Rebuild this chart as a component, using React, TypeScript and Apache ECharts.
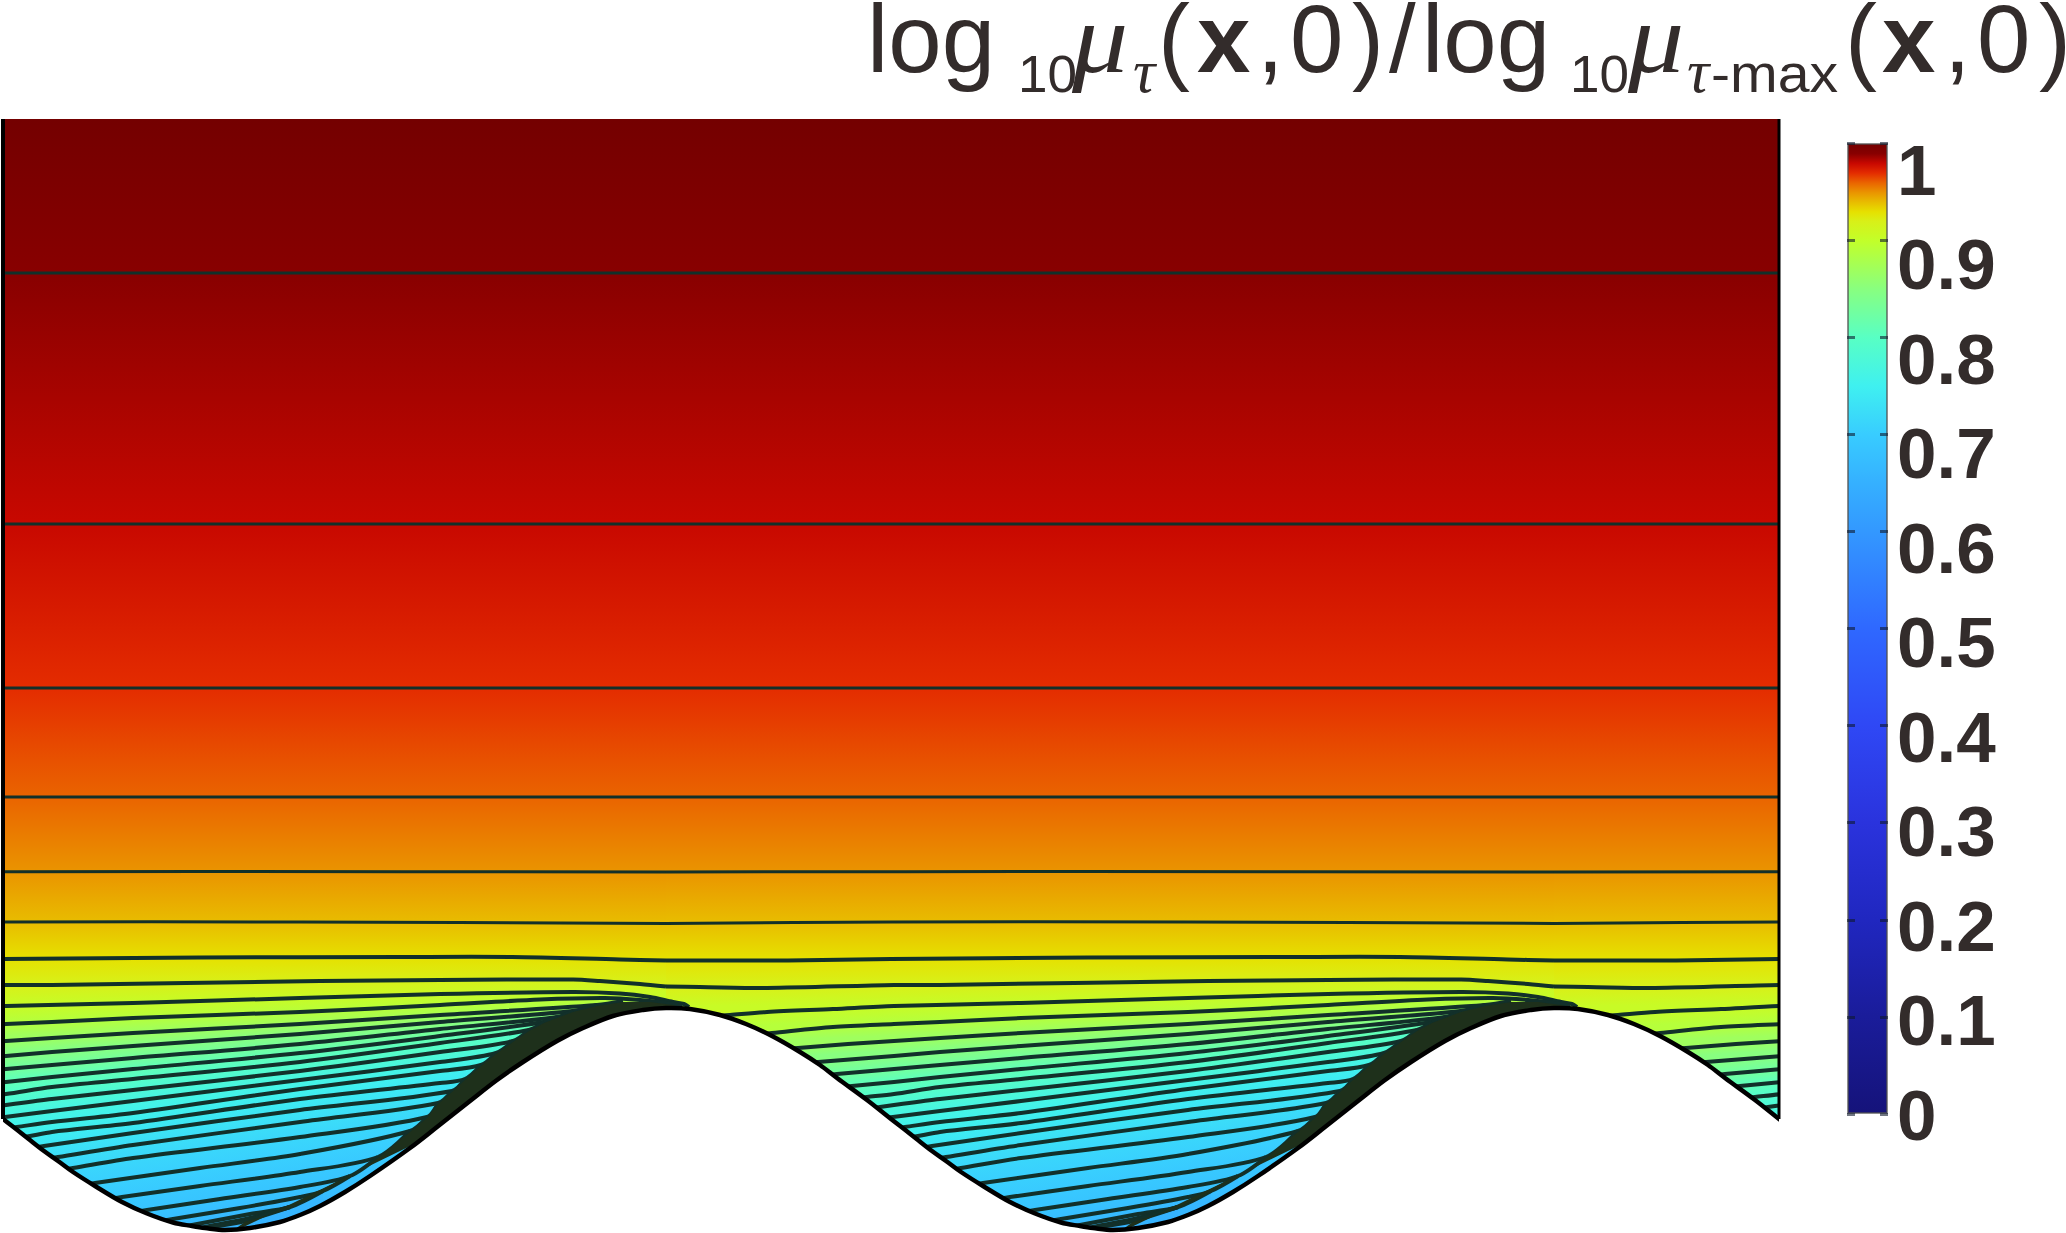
import React, { useEffect, useRef } from "react";
import * as echarts from "echarts";

// Colour scale: level, colour
const colorLevels = [0, 0.1, 0.2, 0.3, 0.4, 0.5, 0.6, 0.65, 0.7, 0.75, 0.8, 0.85, 0.9, 0.92, 0.93, 0.94, 0.95, 0.96, 0.97, 0.98, 0.99, 1];
const colorValues = ["#15137a", "#1a1c9a", "#2027c0", "#2a33dd", "#2f48f5", "#2f68ff", "#3398ff", "#35b0ff", "#38ccff", "#3ff0f0", "#58ffc4", "#88ff80", "#c2ff2a", "#d8f018", "#e6e000", "#e8bc00", "#ea9400", "#ea6400", "#e42c00", "#c80800", "#880000", "#740000"];

const barTicks = [0, 0.1, 0.2, 0.3, 0.4, 0.5, 0.6, 0.7, 0.8, 0.9, 1];

// Contours over one wave period, [x, depth]
const topEdge = [[-222, 119], [666, 119]];
const contour99 = [[-222, 273], [666, 273]];
const contour98 = [[-222, 524], [666, 524]];
const contour97 = [[-222, 688], [666, 688]];
const contour96 = [[-222, 797], [666, 797]];
const contour95 = [[-222, 872], [200, 871.5], [666, 872]];
const contour94 = [[-222, 923.5], [3, 922], [300, 922], [666, 923.5]];
const contour93 = [[-222, 960.5], [-100, 960.5], [3, 959], [200, 957.5], [400, 957], [512, 957], [620, 959.5], [666, 960.5]];
const contour92 = [[-222, 986.5], [-188, 987], [-121, 988], [6, 985], [52, 985], [320, 981], [440, 980], [573, 979.5], [600, 981], [640, 984], [666, 986.5]];
const wallContours = [
  [[-158, 1015], [-121, 1012], [-55, 1009], [6, 1006], [133, 1003], [300, 998], [440, 994], [573, 992], [620, 993.5], [650, 997], [673, 1002], [684, 1004], [689, 1007]],
  [[-116, 1033], [-55, 1027], [6, 1024], [52, 1022], [133, 1018], [300, 1012], [440, 1005], [540, 999.5], [605, 998], [640, 1000], [673, 1004], [682, 1006]],
  [[-90, 1048], [-40, 1044], [6, 1041], [52, 1038], [133, 1033], [300, 1024], [440, 1015], [597, 1005], [623, 1001]],
  [[-70, 1062], [6, 1056], [52, 1052], [133, 1046], [300, 1034], [440, 1022], [573, 1011], [597, 1005]],
  [[-51, 1074], [6, 1069], [52, 1065], [133, 1058], [300, 1044], [440, 1029], [557, 1017], [573, 1011]],
  [[-36, 1086], [6, 1082], [52, 1077], [133, 1069], [300, 1053], [440, 1036], [544, 1022], [557, 1017]],
  [[-21, 1097], [6, 1094], [52, 1087], [133, 1079], [300, 1062], [440, 1043], [529, 1030], [544, 1022]],
  [[-8, 1107], [6, 1105], [52, 1099], [133, 1090], [300, 1071], [440, 1052], [513, 1041], [529, 1030]],
  [[5, 1117], [52, 1111], [133, 1101], [300, 1080], [440, 1062], [496, 1053], [513, 1041]],
  [[17, 1127], [52, 1122], [133, 1113], [300, 1089], [440, 1071], [481, 1065], [496, 1053]],
  [[30, 1136], [52, 1132], [133, 1123], [300, 1099], [440, 1083], [465, 1079], [481, 1065]],
  [[44, 1146], [133, 1133], [300, 1110], [452, 1091], [465, 1079]],
  [[58, 1157], [133, 1145], [300, 1122], [438, 1103], [452, 1091]],
  [[73, 1168], [133, 1158], [300, 1137], [427, 1117], [438, 1103]],
  [[95, 1183], [200, 1168], [300, 1154], [410, 1131], [427, 1117]],
  [[122, 1197], [200, 1186], [300, 1172], [378, 1157], [410, 1131]],
  [[147, 1210], [220, 1199], [300, 1187], [350, 1176], [378, 1157]],
  [[173, 1219], [240, 1208], [300, 1197], [323, 1191], [350, 1176]],
  [[192, 1225], [250, 1214], [290, 1207], [323, 1191]],
  [[205, 1227], [250, 1218], [290, 1207]],
  [[213, 1227], [245, 1221], [290, 1207]],
];
const wallContourLevels = [0.905, 0.89, 0.87, 0.85, 0.83, 0.81, 0.795, 0.78, 0.765, 0.755, 0.745, 0.735, 0.725, 0.715, 0.705, 0.695, 0.685, 0.675, 0.665, 0.66, 0.655];

const upperContours = [contour99, contour98, contour97, contour96, contour95, contour94, contour93, contour92];
const upperLevels = [0.99, 0.98, 0.97, 0.96, 0.95, 0.94, 0.93, 0.92];

// Edge of the dense layer along the wavy wall
const layerEdge = [[225, 1236], [245, 1222], [290, 1208], [323, 1192], [350, 1177], [378, 1158], [410, 1132], [427, 1118], [438, 1104], [452, 1092], [465, 1080], [481, 1066], [496, 1054], [513, 1042], [529, 1031], [544, 1023], [557, 1018], [573, 1012], [597, 1006], [623, 1002], [650, 1002], [673, 1005], [690, 1010]];

// Wavy wall over one period
const wallPoints = [[-222, 1008], [-198, 1009], [-168, 1015], [-142, 1024], [-116, 1036], [-88, 1052], [-68, 1065], [-51, 1078], [-21, 1100], [3, 1119], [16, 1129], [28, 1138.5], [44, 1151], [58, 1161], [73, 1172], [95, 1186], [122, 1202], [147, 1213.5], [173, 1222.5], [192, 1226], [205, 1228], [225, 1230], [250, 1228], [280, 1222], [300, 1215], [320, 1206], [345, 1192], [370, 1176], [410, 1148], [437, 1127], [470, 1101], [497, 1080], [523, 1062], [557, 1041], [583, 1028], [613, 1016], [643, 1010], [666, 1008]];

const periodShifts = [0, 888, 1776];

const leftEdge = [[3, 119], [3, 1119]];
const rightEdge = [[1779, 119], [1779, 1119]];

function colorAt(level: number) {
  let i = 0;
  while (i < colorLevels.length - 2 && level > colorLevels[i + 1]) i++;
  const t = (level - colorLevels[i]) / (colorLevels[i + 1] - colorLevels[i]);
  const hex = (s: string, k: number) => parseInt(s.slice(1 + 2 * k, 3 + 2 * k), 16);
  const c = [0, 1, 2].map((k) => Math.round(hex(colorValues[i], k) * (1 - t) + hex(colorValues[i + 1], k) * t));
  return `rgb(${c[0]},${c[1]},${c[2]})`;
}

function yAt(line: number[][], x: number) {
  if (x <= line[0][0]) return line[0][1];
  for (let i = 1; i < line.length; i++) {
    if (x <= line[i][0]) {
      const t = (x - line[i - 1][0]) / (line[i][0] - line[i - 1][0]);
      return line[i - 1][1] * (1 - t) + line[i][1] * t;
    }
  }
  return line[line.length - 1][1];
}

// Carries a wall-bound contour a little under the wall so that no gap shows at its foot
function underWall(line: number[][]) {
  const [a, b] = line;
  const s = (b[1] - a[1]) / (b[0] - a[0]);
  return [[a[0] - 10, a[1] - s * 10], ...line];
}

const TEXT = "#332c2b";
const SANS = "'Liberation Sans', Arial, sans-serif";
const SERIF = "'Liberation Serif', 'Times New Roman', serif";

function titlePiece(text: string, x: number, base: number, size: number, opts: any = {}) {
  const family = opts.serif ? SERIF : SANS;
  const mid = base - (opts.serif ? 0.3375 : 0.3465) * size;
  return {
    type: "text",
    x,
    y: mid,
    scaleX: opts.scaleX || 1,
    silent: true,
    style: {
      text,
      x: 0,
      y: 0,
      fill: TEXT,
      align: "left",
      verticalAlign: "middle",
      font: `${opts.italic ? "italic " : ""}${opts.bold ? "bold " : ""}${size}px ${family}`,
    },
  };
}

function buildOption() {
  const bandLines = [topEdge, ...upperContours, ...wallContours];
  const bandLevels = [1, ...upperLevels, ...wallContourLevels];
  const contourLines = [...upperContours, ...wallContours.map(underWall)];

  const wallTrace: number[][] = [];
  periodShifts.forEach((shift) => {
    wallPoints.forEach(([x, y]) => {
      const px = x + shift;
      if (px >= -70 && px <= 1850 && (wallTrace.length === 0 || px > wallTrace[wallTrace.length - 1][0])) {
        wallTrace.push([px, y]);
      }
    });
  });

  const bands = {
    type: "custom",
    z: 1,
    clip: true,
    silent: true,
    coordinateSystem: "cartesian2d",
    xAxisIndex: 0,
    yAxisIndex: 0,
    data: bandLines.map((_, i) => [i, i]),
    renderItem: (params: any, api: any) => {
      const i = params.dataIndex;
      const line = bandLines[i];
      const next = bandLines[i + 1];
      const first = line[0][0];
      const last = line[line.length - 1][0];
      const sx = Math.min(Math.max(250, first), last);
      const slope = next ? (yAt(line, sx - 60) - yAt(line, sx + 60)) / 120 : 0;
      const len = Math.sqrt(1 + slope * slope);
      const nx = slope / len;
      const ny = 1 / len;
      const py = yAt(line, sx);
      const qy = next ? yAt(next, sx) : py + 10;
      const dist = (qy - py) * ny;
      return {
        type: "group",
        children: periodShifts.map((shift) => {
          const pts = line.map(([x, y]) => api.coord([x + shift, y]));
          pts.push(api.coord([last + shift, 1233]));
          pts.push(api.coord([first + shift, 1233]));
          const a = api.coord([sx + shift, py]);
          const b = api.coord([sx + shift + nx * dist, py + ny * dist]);
          const c0 = colorAt(bandLevels[i]);
          const c1 = next ? colorAt(bandLevels[i + 1]) : c0;
          return {
            type: "polygon",
            shape: { points: pts },
            style: {
              fill: {
                type: "linear",
                x: a[0],
                y: a[1],
                x2: b[0],
                y2: b[1],
                global: true,
                colorStops: [
                  { offset: 0, color: c0 },
                  { offset: 1, color: c1 },
                ],
              },
            },
          };
        }),
      };
    },
  };

  const contoursSeries = {
    type: "custom",
    z: 2,
    clip: true,
    silent: true,
    coordinateSystem: "cartesian2d",
    xAxisIndex: 0,
    yAxisIndex: 0,
    data: contourLines.map((_, i) => [i, i]),
    renderItem: (params: any, api: any) => {
      const i = params.dataIndex;
      const line = contourLines[i];
      const upper = i < upperContours.length - 2;
      return {
        type: "group",
        children: periodShifts.map((shift) => ({
          type: "polyline",
          shape: {
            points: line.map(([x, y]) => api.coord([x + shift, y])),
            smooth: 0.3,
            smoothConstraint: false,
          },
          style: { stroke: "#12302a", lineWidth: upper ? 3 : 4, fill: "none" },
        })),
      };
    },
  };

  const layer = {
    type: "custom",
    z: 3,
    clip: true,
    silent: true,
    coordinateSystem: "cartesian2d",
    xAxisIndex: 0,
    yAxisIndex: 0,
    data: periodShifts.map((s, i) => [i, s]),
    renderItem: (params: any, api: any) => {
      const shift = periodShifts[params.dataIndex];
      return {
        type: "polygon",
        shape: { points: layerEdge.map(([x, y]) => api.coord([x + shift, y])) },
        style: { fill: "#1e301b" },
      };
    },
  };

  const wallShape = {
    type: "custom",
    z: 4,
    clip: true,
    silent: true,
    coordinateSystem: "cartesian2d",
    xAxisIndex: 0,
    yAxisIndex: 0,
    data: [[0, 0]],
    renderItem: (_: any, api: any) => {
      const line = wallTrace.map(([x, y]) => api.coord([x, y]));
      const r = api.coord([1950, 1233]);
      const l = api.coord([-150, 1233]);
      return {
        type: "group",
        children: [
          {
            type: "polygon",
            shape: {
              points: [...line, r, [r[0], 1700], [l[0], 1700], l],
              smooth: 0.35,
              smoothConstraint: false,
            },
            style: { fill: "#ffffff" },
          },
          {
            type: "polyline",
            shape: { points: line, smooth: 0.35, smoothConstraint: false },
            style: { stroke: "#000000", lineWidth: 4.5, fill: "none" },
          },
        ],
      };
    },
  };

  const edgeSeries = (data: number[][], width: number) => ({
    type: "line",
    z: 5,
    silent: true,
    clip: false,
    showSymbol: false,
    symbol: "none",
    xAxisIndex: 0,
    yAxisIndex: 0,
    lineStyle: { color: "#000000", width },
    data,
  });

  const ramp = colorLevels
    .map((lv, i) => ({ offset: 1 - lv, color: colorValues[i] }))
    .reverse();

  const G = { bar: { left: 1847, top: 143, width: 41, height: 971 }, labels: { left: 1896, top: 170, width: 1, height: 945 } };

  const tickFmt = (v: number) => String(+v.toFixed(1));
  const tickStyle = { color: "rgba(15,25,45,0.6)", width: 3 };

  return {
    animation: false,
    backgroundColor: "#ffffff",
    grid: [
      { left: 3, top: 119, width: 1776, height: 1114 },
      G.bar,
      G.labels,
    ],
    xAxis: [
      { type: "value", gridIndex: 0, min: 3, max: 1779, show: false },
      { type: "category", gridIndex: 1, data: [""], show: false },
      { type: "value", gridIndex: 2, min: 0, max: 1, show: false },
    ],
    yAxis: [
      { type: "value", gridIndex: 0, min: 119, max: 1233, inverse: true, show: false },
      {
        type: "value", gridIndex: 1, min: 0, max: 1, interval: 0.1, position: "left", z: 10,
        axisLine: { show: false }, splitLine: { show: false }, axisLabel: { show: false },
        axisTick: { show: true, inside: true, length: 8, lineStyle: tickStyle },
      },
      {
        type: "value", gridIndex: 1, min: 0, max: 1, interval: 0.1, position: "right", z: 10,
        axisLine: { show: false }, splitLine: { show: false }, axisLabel: { show: false },
        axisTick: { show: true, inside: true, length: 8, lineStyle: tickStyle },
      },
      {
        type: "value", gridIndex: 2, min: 0, max: 1, interval: 0.1, position: "right",
        axisLine: { show: false }, splitLine: { show: false }, axisTick: { show: false },
        axisLabel: {
          show: true, inside: false, margin: 0, align: "left", verticalAlign: "middle",
          color: TEXT, fontFamily: SANS, fontWeight: "bold", fontSize: 71,
          formatter: tickFmt, customValues: barTicks, showMinLabel: true, showMaxLabel: true, hideOverlap: false,
        },
      },
    ],
    series: [
      bands,
      contoursSeries,
      layer,
      wallShape,
      edgeSeries(leftEdge, 4),
      edgeSeries(rightEdge, 3),
      {
        type: "bar",
        xAxisIndex: 1,
        yAxisIndex: 1,
        barWidth: "100%",
        silent: true,
        z: 2,
        data: [1],
        itemStyle: {
          color: { type: "linear", x: 0, y: 0, x2: 0, y2: 1, colorStops: ramp },
          borderColor: "rgba(80,80,80,0.65)",
          borderWidth: 2,
        },
      },
    ],
    graphic: [
      titlePiece("log", 867, 72, 96),
      titlePiece("10", 1018, 92, 52, { scaleX: 1.02 }),
      titlePiece("μ", 1072, 72, 100, { serif: true, italic: true, scaleX: 1.12 }),
      titlePiece("τ", 1133, 92, 62, { serif: true, italic: true }),
      titlePiece("(", 1158, 72, 96),
      titlePiece("x", 1197, 72, 96, { bold: true }),
      titlePiece(",", 1257, 72, 96),
      titlePiece("0", 1290, 72, 96),
      titlePiece(")", 1352, 72, 96),
      titlePiece("/", 1389, 72, 96),
      titlePiece("log", 1422, 72, 96),
      titlePiece("10", 1570, 92, 52, { scaleX: 1.02 }),
      titlePiece("μ", 1628, 72, 100, { serif: true, italic: true, scaleX: 1.12 }),
      titlePiece("τ", 1687, 92, 62, { serif: true, italic: true }),
      titlePiece("-max", 1711, 92, 52, { scaleX: 1.1 }),
      titlePiece("(", 1845, 72, 96),
      titlePiece("x", 1882, 72, 96, { bold: true }),
      titlePiece(",", 1944, 72, 96),
      titlePiece("0", 1977, 72, 96),
      titlePiece(")", 2039, 72, 96),
    ],
  };
}

export default function App() {
  const ref = useRef<HTMLDivElement>(null);
  useEffect(() => {
    document.body.style.margin = "0";
    const chart = echarts.init(ref.current as HTMLDivElement, null, { renderer: "svg" });
    chart.setOption(buildOption() as any);
    return () => chart.dispose();
  }, []);
  return <div ref={ref} style={{ width: 2066, height: 1233, overflow: "hidden" }} />;
}
